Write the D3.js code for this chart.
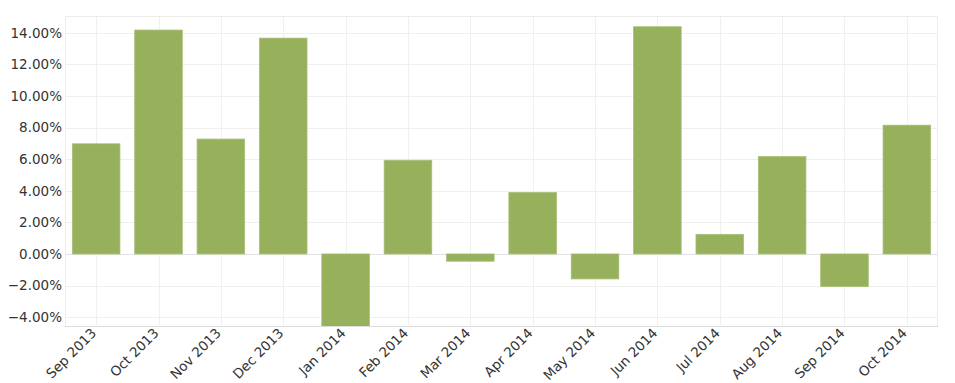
<!DOCTYPE html>
<html><head><meta charset="utf-8">
<script src="https://cdn.jsdelivr.net/npm/d3@7"></script>
<style>
html,body{margin:0;padding:0;background:#fff;}
svg{display:block;font-family:"DejaVu Sans",sans-serif;}
</style></head>
<body><svg id="c" width="955" height="383"></svg>
<script>
const categories = ["Sep 2013","Oct 2013","Nov 2013","Dec 2013","Jan 2014","Feb 2014","Mar 2014","Apr 2014","May 2014","Jun 2014","Jul 2014","Aug 2014","Sep 2014","Oct 2014"];
const returns = [6.97, 14.17, 7.27, 13.66, -5.3, 5.93, -0.46, 3.89, -1.58, 14.38, 1.24, 6.16, -2.06, 8.15];
const yTicks = [-4, -2, 0, 2, 4, 6, 8, 10, 12, 14];

const svg = d3.select("#c");
const m = {left: 65, top: 16, right: 938, bottom: 326};
const x = d3.scaleBand().domain(categories).range([m.left, m.right]).paddingInner(0.237).paddingOuter(0.118);
const y = d3.scaleLinear().domain([-4.56, 15.06]).range([m.bottom, m.top]);

svg.append("defs").append("clipPath").attr("id","clip")
  .append("rect").attr("x", m.left).attr("y", m.top).attr("width", m.right-m.left).attr("height", m.bottom-m.top);

const grid = svg.append("g");
grid.selectAll("line.h").data(yTicks).join("line")
  .attr("x1", m.left).attr("x2", m.right)
  .attr("y1", d => Math.round(y(d))+0.5).attr("y2", d => Math.round(y(d))+0.5)
  .attr("stroke", d => d === 0 ? "#e2e2e2" : "#efefef").attr("stroke-width", 1);
grid.selectAll("line.v").data(categories).join("line")
  .attr("x1", d => Math.round(x(d) + x.bandwidth()/2)+0.5).attr("x2", d => Math.round(x(d) + x.bandwidth()/2)+0.5)
  .attr("y1", m.top).attr("y2", m.bottom)
  .attr("stroke", "#f0f0f0");
svg.append("rect").attr("x", m.left+0.5).attr("y", m.top+0.5)
  .attr("width", m.right-m.left-1).attr("height", m.bottom-m.top)
  .attr("fill","none").attr("stroke","#ececec");
svg.append("line").attr("x1", m.left).attr("x2", m.right)
  .attr("y1", m.bottom+0.5).attr("y2", m.bottom+0.5).attr("stroke","#dcdcdc");

svg.append("g").attr("clip-path","url(#clip)")
  .selectAll("rect").data(categories).join("rect")
  .attr("x", d => x(d))
  .attr("width", x.bandwidth())
  .attr("y", (d,i) => y(Math.max(0, returns[i])))
  .attr("height", (d,i) => Math.abs(y(returns[i]) - y(0)))
  .attr("fill", "#97b05c")
  .attr("stroke", "#a8be74").attr("stroke-width", 0.8);

const yAxis = d3.axisLeft(y).tickValues(yTicks).tickSize(0).tickPadding(3)
  .tickFormat(d => d3.format(".2f")(d) + "%");
const ya = svg.append("g").attr("transform", `translate(${m.left},0)`).call(yAxis);
ya.select(".domain").remove();
ya.selectAll("text").attr("font-size", 13.5).attr("fill", "#333").attr("font-family", "DejaVu Sans");

const xAxis = d3.axisBottom(x).tickSize(0).tickPadding(0);
const xa = svg.append("g").attr("transform", `translate(0,${m.bottom})`).call(xAxis);
xa.select(".domain").remove();
xa.selectAll("text")
  .attr("font-size", 13.5).attr("fill", "#333").attr("font-family", "DejaVu Sans")
  .attr("text-anchor", "end").attr("dy", 0).attr("y", 0)
  .attr("transform", "translate(1,8) rotate(-45)");
</script></body></html>
